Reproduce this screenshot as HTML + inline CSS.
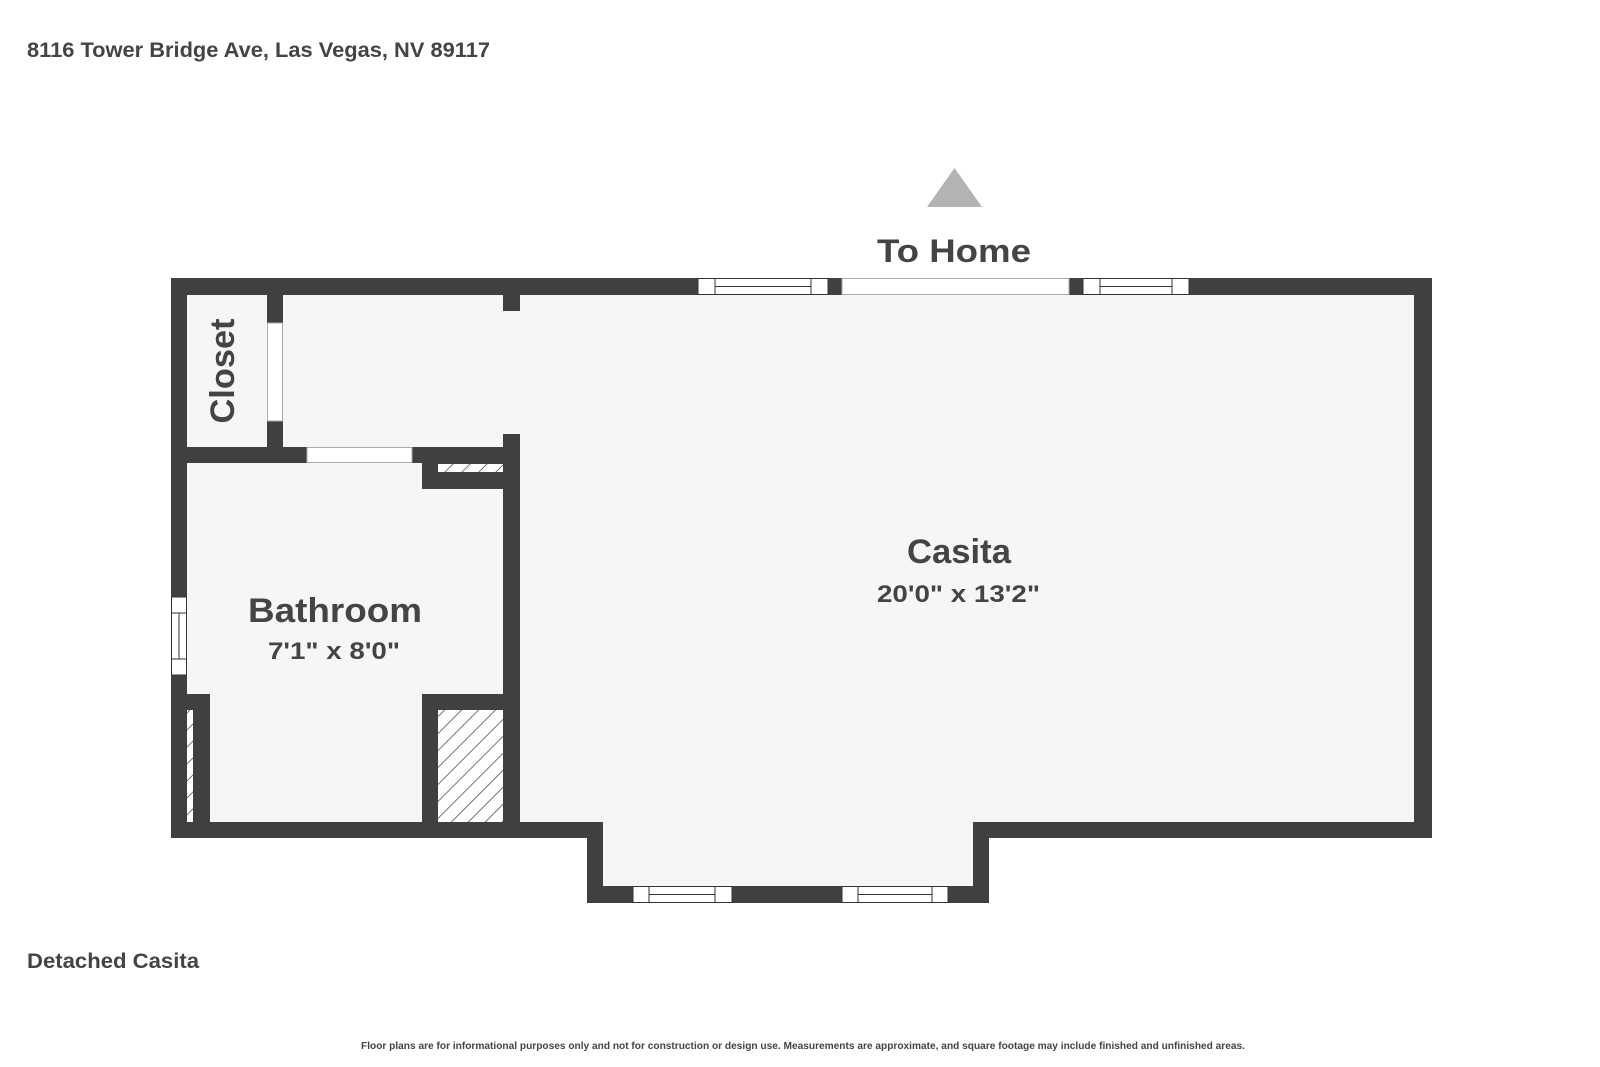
<!DOCTYPE html>
<html><head><meta charset="utf-8"><style>
html,body{margin:0;padding:0;background:#fff;width:1600px;height:1067px;overflow:hidden}
svg{display:block}
text{font-family:"Liberation Sans",sans-serif;font-weight:bold;fill:#444}
</style></head><body>
<svg width="1600" height="1067" viewBox="0 0 1600 1067" xmlns="http://www.w3.org/2000/svg">
<defs>
<pattern id="h" patternUnits="userSpaceOnUse" width="12" height="12" patternTransform="rotate(45)">
<rect width="12" height="12" fill="#fff"/><line x1="0" y1="0" x2="0" y2="12" stroke="#444" stroke-width="1.5"/>
</pattern>
</defs>
<text x="27" y="57" font-size="21" textLength="463" lengthAdjust="spacingAndGlyphs">8116 Tower Bridge Ave, Las Vegas, NV 89117</text>
<polygon points="927,207 982,207 954.5,168" fill="#b3b3b3"/>
<text x="877" y="262" font-size="32" textLength="154" lengthAdjust="spacingAndGlyphs">To Home</text>

<polygon points="171,278 1432,278 1432,838 989,838 989,903 587,903 587,838 171,838" fill="#f6f6f6"/>
<g fill="#404040">
<rect x="171" y="278" width="1261" height="17"/>
<rect x="171" y="278" width="16" height="560"/>
<rect x="1414" y="278" width="18" height="560"/>
<rect x="171" y="822" width="432" height="16"/>
<rect x="973" y="822" width="459" height="16"/>
<rect x="587" y="822" width="16" height="81"/>
<rect x="973" y="822" width="16" height="81"/>
<rect x="587" y="886" width="402" height="17"/>
<rect x="267" y="295" width="16" height="152"/>
<rect x="187" y="447" width="333" height="16"/>
<rect x="422" y="447" width="98" height="42"/>
<rect x="503" y="295" width="17" height="16"/>
<rect x="503" y="434" width="17" height="404"/>
<rect x="422" y="694" width="98" height="144"/>
<rect x="187" y="694" width="23" height="144"/>
</g>
<rect x="438" y="464" width="65" height="8" fill="url(#h)"/>
<rect x="438" y="710" width="65" height="112" fill="url(#h)"/>
<rect x="187" y="710" width="6" height="112" fill="url(#h)"/>
<g fill="#fff" stroke="#aaa" stroke-width="1">
<rect x="267.5" y="323" width="15" height="98"/>
<rect x="307" y="447.5" width="105" height="15"/>
<rect x="842" y="278.5" width="227" height="16"/>
</g>
<g fill="#fff" stroke="#333" stroke-width="1">
<rect x="698" y="278.5" width="130" height="16"/><rect x="715" y="278.5" width="96" height="8"/><rect x="715" y="286.5" width="96" height="8"/>
<rect x="1083" y="278.5" width="106" height="16"/><rect x="1100" y="278.5" width="72" height="8"/><rect x="1100" y="286.5" width="72" height="8"/>
<rect x="633" y="886.5" width="99" height="16"/><rect x="649" y="886.5" width="66" height="8"/><rect x="649" y="894.5" width="66" height="8"/>
<rect x="842" y="886.5" width="106" height="16"/><rect x="858" y="886.5" width="74" height="8"/><rect x="858" y="894.5" width="74" height="8"/>
<rect x="171.5" y="597" width="15" height="78"/><rect x="171.5" y="613" width="7.5" height="46"/><rect x="179" y="613" width="7.5" height="46"/>
</g>

<text x="234" y="371" font-size="34" text-anchor="middle" transform="rotate(-90 234 371)" textLength="105" lengthAdjust="spacingAndGlyphs">Closet</text>
<text x="907" y="563" font-size="34" textLength="104" lengthAdjust="spacingAndGlyphs">Casita</text>
<text x="877" y="602" font-size="24" textLength="163" lengthAdjust="spacingAndGlyphs">20'0" x 13'2"</text>
<text x="248" y="622" font-size="34" textLength="174" lengthAdjust="spacingAndGlyphs">Bathroom</text>
<text x="268" y="659" font-size="24" textLength="132" lengthAdjust="spacingAndGlyphs">7'1" x 8'0"</text>
<text x="27" y="968" font-size="21" textLength="172" lengthAdjust="spacingAndGlyphs">Detached Casita</text>
<text x="361" y="1049" font-size="10" textLength="884" lengthAdjust="spacingAndGlyphs">Floor plans are for informational purposes only and not for construction or design use. Measurements are approximate, and square footage may include finished and unfinished areas.</text>
</svg>
</body></html>
